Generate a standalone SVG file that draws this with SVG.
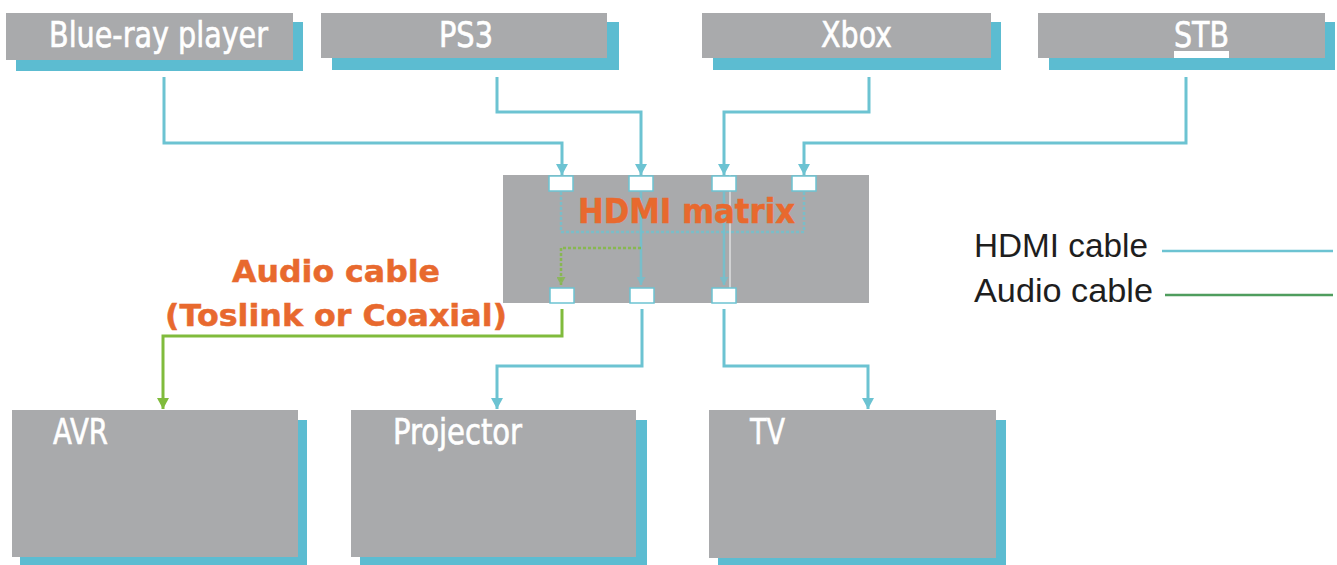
<svg xmlns="http://www.w3.org/2000/svg" width="1337" height="565" viewBox="0 0 1337 565">
<defs>
<style>
.box{fill:#a9aaac}
.shadow{fill:#5cbcd1}
.title{fill:#ffffff;stroke:#ffffff;stroke-width:0.6;font-family:"Liberation Sans Narrow","DejaVu Sans Condensed","Roboto Condensed","Liberation Sans",sans-serif;font-size:35px}
.hdmi{fill:none;stroke:#6cc3d2;stroke-width:3}
.audio{fill:none;stroke:#80bb3c;stroke-width:3}
.inner{fill:none;stroke:#6cc3d2;stroke-width:2.5;opacity:0.8}
.innerdash{fill:none;stroke:#6cc3d2;stroke-width:2.5;stroke-dasharray:3 2;opacity:0.75}
.innergreen{fill:none;stroke:#80bb3c;stroke-width:2.5;stroke-dasharray:3 2;opacity:0.8}
.port{fill:#ffffff;stroke:#6cc3d2;stroke-width:1.5}
.orange{fill:#e8692e;stroke:#e8692e;stroke-width:0.5;font-family:"DejaVu Sans","Liberation Sans",sans-serif;font-weight:bold}
.legend{fill:#1e1e1e;font-family:"Liberation Sans",Arial,sans-serif;font-size:34px}
</style>
<marker id="arC" markerUnits="userSpaceOnUse" markerWidth="12" markerHeight="12" refX="11" refY="6" orient="auto">
<path d="M0,0 L11,6 L0,12 z" fill="#6cc3d2"/>
</marker>
<marker id="arG" markerUnits="userSpaceOnUse" markerWidth="12" markerHeight="12" refX="11" refY="6" orient="auto">
<path d="M0,0 L11,6 L0,12 z" fill="#80bb3c"/>
</marker>
<marker id="arCs" markerUnits="userSpaceOnUse" markerWidth="9" markerHeight="9" refX="8" refY="4.5" orient="auto">
<path d="M0,0 L8,4.5 L0,9 z" fill="#6cc3d2" opacity="0.85"/>
</marker>
<marker id="arGs" markerUnits="userSpaceOnUse" markerWidth="9" markerHeight="9" refX="8" refY="4.5" orient="auto">
<path d="M0,0 L8,4.5 L0,9 z" fill="#80bb3c" opacity="0.85"/>
</marker>
</defs>
<rect width="1337" height="565" fill="#ffffff"/>

<g id="node-bluray">
<rect class="shadow" x="16" y="22" width="287" height="49"/>
<rect class="box" x="6" y="13" width="287" height="47"/>
<text class="title" x="49" y="47" textLength="219" lengthAdjust="spacingAndGlyphs">Blue-ray player</text>
</g>
<g id="node-ps3">
<rect class="shadow" x="332" y="22" width="287" height="48"/>
<rect class="box" x="321" y="13" width="286" height="45"/>
<text class="title" x="439" y="47" textLength="54" lengthAdjust="spacingAndGlyphs">PS3</text>
</g>
<g id="node-xbox">
<rect class="shadow" x="713" y="22" width="288" height="48"/>
<rect class="box" x="702" y="13" width="289" height="45"/>
<text class="title" x="821" y="47" textLength="71" lengthAdjust="spacingAndGlyphs">Xbox</text>
</g>
<g id="node-stb">
<rect class="shadow" x="1049" y="22" width="286" height="48"/>
<rect class="box" x="1038" y="13" width="287" height="45"/>
<text class="title" x="1174" y="47" textLength="55" lengthAdjust="spacingAndGlyphs">STB</text>
<rect x="1174" y="51" width="55" height="7" fill="#ffffff"/>
</g>

<g id="node-matrix">
<rect class="box" x="503" y="175" width="366" height="128"/>
<line x1="730" y1="175" x2="730" y2="303" stroke="#ffffff" stroke-width="1.2" opacity="0.8"/>
<path class="innerdash" d="M561 192 V232 H804 V192"/>
<path class="inner" d="M641 192 V285" marker-end="url(#arCs)"/>
<path class="inner" d="M724 192 V285" marker-end="url(#arCs)"/>
<path class="innergreen" d="M641 248 H561 V285" marker-end="url(#arGs)"/>
<text class="orange" x="578" y="223" font-size="33" textLength="217" lengthAdjust="spacingAndGlyphs">HDMI matrix</text>
<rect class="port" x="549" y="176" width="24" height="15"/>
<rect class="port" x="629" y="176" width="24" height="15"/>
<rect class="port" x="712" y="176" width="24" height="15"/>
<rect class="port" x="792" y="176" width="24" height="15"/>
<rect class="port" x="550" y="288" width="24" height="15"/>
<rect class="port" x="630" y="288" width="24" height="15"/>
<rect class="port" x="712" y="288" width="24" height="15"/>
</g>

<g id="node-avr">
<rect class="shadow" x="20" y="420" width="287" height="150"/>
<rect class="box" x="12" y="410" width="286" height="147"/>
<text class="title" x="53" y="444" textLength="55" lengthAdjust="spacingAndGlyphs">AVR</text>
</g>
<g id="node-projector">
<rect class="shadow" x="360" y="420" width="287" height="150"/>
<rect class="box" x="351" y="410" width="285" height="147"/>
<text class="title" x="393" y="444" textLength="129" lengthAdjust="spacingAndGlyphs">Projector</text>
</g>
<g id="node-tv">
<rect class="shadow" x="718" y="420" width="288" height="150"/>
<rect class="box" x="709" y="410" width="287" height="148"/>
<text class="title" x="750" y="444" textLength="35" lengthAdjust="spacingAndGlyphs">TV</text>
</g>

<g id="connectors">
<path class="hdmi" d="M164 77 V143 H562 V175" marker-end="url(#arC)"/>
<path class="hdmi" d="M497 77 V112 H641 V175" marker-end="url(#arC)"/>
<path class="hdmi" d="M869 77 V112 H724 V175" marker-end="url(#arC)"/>
<path class="hdmi" d="M1186 77 V143 H804 V175" marker-end="url(#arC)"/>
<path class="audio" d="M562 309 V336 H163 V409" marker-end="url(#arG)"/>
<path class="hdmi" d="M642 309 V366 H497 V409" marker-end="url(#arC)"/>
<path class="hdmi" d="M724 309 V366 H868 V409" marker-end="url(#arC)"/>
</g>

<g id="labels">
<text class="orange" x="232" y="282" font-size="31" textLength="208" lengthAdjust="spacingAndGlyphs">Audio cable</text>
<text class="orange" x="165" y="326" font-size="31" textLength="342" lengthAdjust="spacingAndGlyphs">(Toslink or Coaxial)</text>
</g>

<g id="legend">
<text class="legend" x="974" y="257" textLength="174" lengthAdjust="spacingAndGlyphs">HDMI cable</text>
<line x1="1162" y1="251" x2="1333" y2="251" stroke="#6cc3d2" stroke-width="2.5"/>
<text class="legend" x="974" y="302" textLength="179" lengthAdjust="spacingAndGlyphs">Audio cable</text>
<line x1="1165" y1="295" x2="1333" y2="295" stroke="#4f9d5e" stroke-width="2.5"/>
</g>
</svg>
